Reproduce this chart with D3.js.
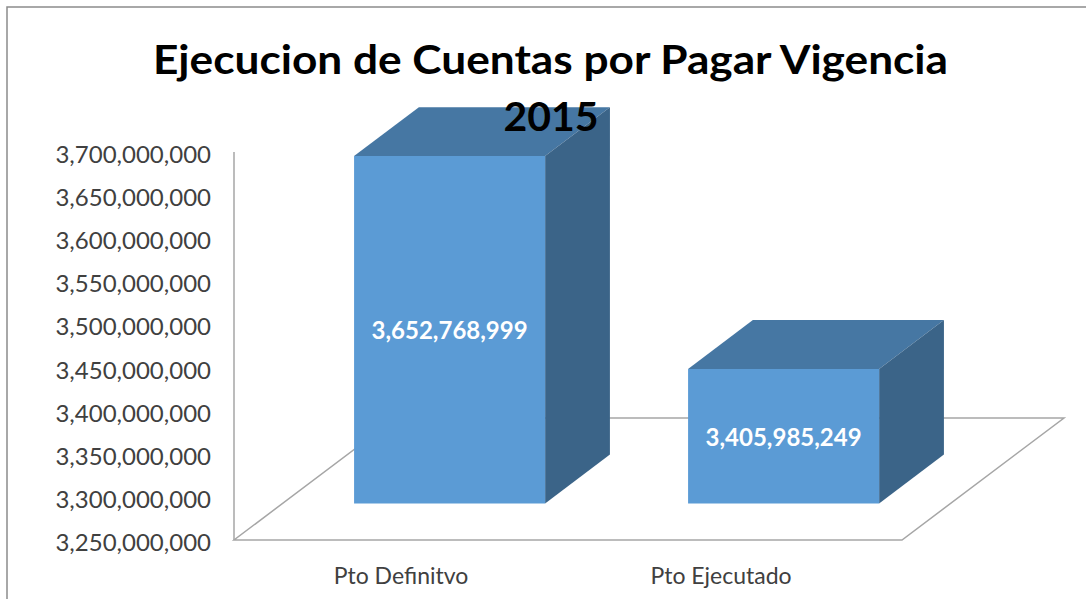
<!DOCTYPE html>
<html>
<head>
<meta charset="utf-8">
<script src="https://cdn.jsdelivr.net/npm/d3@7"></script>
<style>
  html, body { margin: 0; padding: 0; background: #ffffff; }
  svg { display: block; }
</style>
</head>
<body>
<svg id="chart" width="1086" height="599"></svg>
<script>
// Chart data
const categories = ["Pto Definitvo", "Pto Ejecutado"];
const values = [3652768999, 3405985249];
const tickValues = [3250000000, 3300000000, 3350000000, 3400000000, 3450000000,
                    3500000000, 3550000000, 3600000000, 3650000000, 3700000000];
const titleLines = ["Ejecucion de Cuentas por Pagar Vigencia", "2015"];

const svg = d3.select("#chart");
const W = 1086, H = 599;

// Outer frame (top and left edges visible)
svg.append("rect").attr("width", W).attr("height", H).attr("fill", "#ffffff");
svg.append("path")
  .attr("d", `M7,${H} L7,7 L${W},7`)
  .attr("fill", "none").attr("stroke", "#8c8c8c").attr("stroke-width", 1.5);

// Front plane scales
const x = d3.scaleBand().domain(categories).range([234, 902])
  .paddingInner(0.428).paddingOuter(0.214);
const y = d3.scaleLinear().domain([tickValues[0], tickValues[tickValues.length - 1]])
  .range([540, 152]);

// Oblique depth projection
const depthVec = [162, -122];
const P = (px, py, d) => [px + d * depthVec[0], py + d * depthVec[1]];
const pathOf = pts => "M" + pts.map(p => p.join(",")).join("L") + "Z";

const base = y.domain()[0];
const gridColor = "#a6a6a6";

// Floor
const floor = [P(234, y(base), 0), P(902, y(base), 0), P(902, y(base), 1), P(234, y(base), 1)];
svg.append("path").attr("d", pathOf(floor))
  .attr("fill", "none").attr("stroke", gridColor).attr("stroke-width", 1.5);

// Bars as boxes
const d0 = 0.3, d1 = 0.7;
const bars = svg.append("g");
categories.forEach((c, i) => {
  const x0 = x(c), x1 = x(c) + x.bandwidth();
  const yt = y(values[i]), yb = y(base);
  const g = bars.append("g");
  // top
  g.append("path").attr("d", pathOf([P(x0, yt, d0), P(x1, yt, d0), P(x1, yt, d1), P(x0, yt, d1)]))
    .attr("fill", "#4677a3");
  // side
  g.append("path").attr("d", pathOf([P(x1, yt, d0), P(x1, yb, d0), P(x1, yb, d1), P(x1, yt, d1)]))
    .attr("fill", "#3b6488");
  // front
  g.append("path").attr("d", pathOf([P(x0, yt, d0), P(x1, yt, d0), P(x1, yb, d0), P(x0, yb, d0)]))
    .attr("fill", "#5b9bd5");
  // value label centred on the front face
  const fc = P((x0 + x1) / 2, (yt + yb) / 2, d0);
  g.append("text")
    .attr("x", fc[0]).attr("y", fc[1])
    .attr("text-anchor", "middle").attr("dominant-baseline", "central")
    .attr("font-family", "Lato, 'Open Sans', sans-serif")
    .attr("font-weight", 700).attr("font-size", 24)
    .attr("fill", "#ffffff")
    .text(d3.format(",")(values[i]));
});

// Value axis line
svg.append("line")
  .attr("x1", 234).attr("x2", 234)
  .attr("y1", y(tickValues[tickValues.length - 1])).attr("y2", y(base))
  .attr("stroke", gridColor).attr("stroke-width", 1.5);

// Value axis labels
svg.append("g").selectAll("text").data(tickValues).join("text")
  .attr("x", 211).attr("y", d => y(d) + 1.5)
  .attr("text-anchor", "end").attr("dominant-baseline", "central")
  .attr("font-family", "Lato, 'Open Sans', sans-serif")
  .attr("font-size", 24).attr("fill", "#404040")
  .text(d => d3.format(",")(d));

// Category labels
svg.append("g").selectAll("text").data(categories).join("text")
  .attr("x", (d, i) => x(d) + x.bandwidth() / 2 - i * 14)
  .attr("y", 584)
  .attr("text-anchor", "middle")
  .attr("font-family", "Lato, 'Open Sans', sans-serif")
  .attr("font-size", 23).attr("fill", "#404040")
  .text(d => d);

// Title
const title = svg.append("g")
  .attr("font-family", "Lato, 'Open Sans', sans-serif")
  .attr("font-weight", 700).attr("font-size", 41).attr("fill", "#000000");
title.append("text").attr("x", 550.5).attr("y", 74).attr("text-anchor", "middle")
  .attr("textLength", 795).attr("lengthAdjust", "spacingAndGlyphs")
  .text(titleLines[0]);
title.append("text").attr("x", 551).attr("y", 131).attr("text-anchor", "middle")
  .text(titleLines[1]);
</script>
</body>
</html>
